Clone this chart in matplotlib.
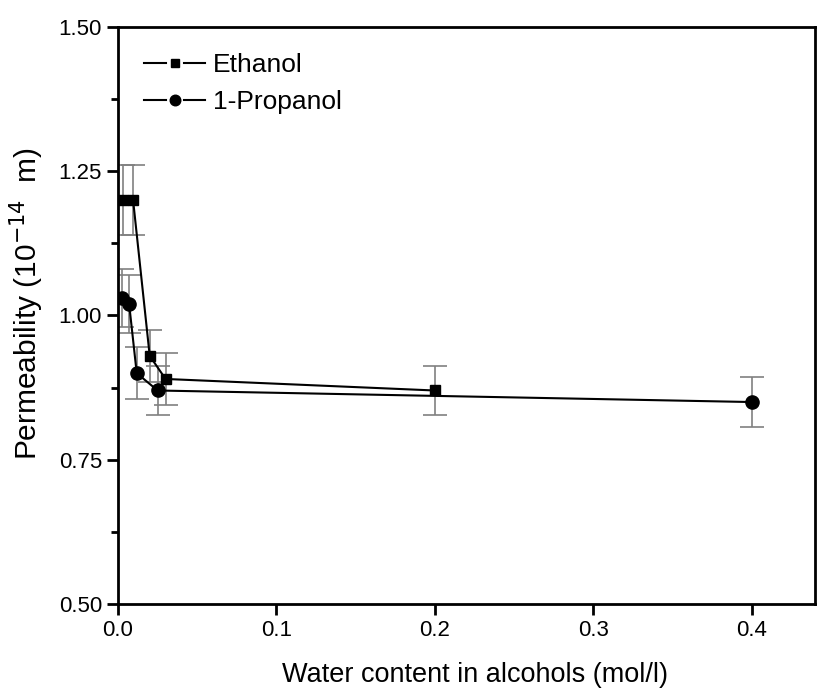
import matplotlib as mpl
import matplotlib.pyplot as plt
import numpy as np
from matplotlib.legend_handler import HandlerBase
from matplotlib.lines import Line2D
from matplotlib.ticker import MultipleLocator

plt.rcParams['font.family'] = ['Liberation Sans', 'DejaVu Sans']

# Ethanol
eth_x = [0.003, 0.0095, 0.020, 0.030, 0.200]
eth_y = [1.20, 1.20, 0.93, 0.89, 0.87]
eth_err = [0.06, 0.06, 0.045, 0.045, 0.043]

# 1-Propanol
prop_x = [0.0023, 0.007, 0.0118, 0.025, 0.400]
prop_y = [1.03, 1.02, 0.90, 0.87, 0.85]
prop_err = [0.05, 0.05, 0.045, 0.043, 0.043]


# legend entry drawn as  line - marker - line  with small gaps
class GapHandler(HandlerBase):
    def create_artists(self, legend, orig, xdescent, ydescent, width, height, fontsize, trans):
        y = height / 2 - ydescent
        x0 = -xdescent
        x1 = x0 + width
        mid = (x0 + x1) / 2
        g = 6.5
        l1 = Line2D([x0, mid - g], [y, y], color='black', lw=1.5, transform=trans)
        l2 = Line2D([mid + g, x1], [y, y], color='black', lw=1.5, transform=trans)
        m = Line2D([mid], [y], marker=orig.get_marker(), ms=orig.get_markersize() * 0.8,
                   color='black', ls='none', transform=trans)
        return [l1, l2, m]


fig = plt.figure(figsize=(8.18, 6.89), dpi=100)
ax = fig.add_axes([0.1443, 0.1234, 0.852, 0.8374])

err_kw = dict(ecolor='#808080', elinewidth=1.2, capsize=8.5, capthick=1.2)
eth = ax.errorbar(eth_x, eth_y, yerr=eth_err, color='black', lw=1.5, marker='s', ms=7.5,
                  label='Ethanol', **err_kw)
prop = ax.errorbar(prop_x, prop_y, yerr=prop_err, color='black', lw=1.5, marker='o', ms=9.5,
                   label='1-Propanol', **err_kw)

ax.set_xlim(0, 0.44)
ax.set_ylim(0.5, 1.5)
ax.set_xticks([0.0, 0.1, 0.2, 0.3, 0.4])
ax.set_yticks([0.50, 0.75, 1.00, 1.25, 1.50])
ax.yaxis.set_minor_locator(MultipleLocator(0.125))
ax.xaxis.set_major_formatter(mpl.ticker.FormatStrFormatter('%.1f'))
ax.yaxis.set_major_formatter(mpl.ticker.FormatStrFormatter('%.2f'))

ax.tick_params(axis='both', which='major', direction='out', length=8, width=2,
               labelsize=16, top=False, right=False)
ax.tick_params(axis='y', which='minor', direction='out', length=5, width=2, right=False)
for s in ax.spines.values():
    s.set_linewidth(2)

ax.set_xlabel('Water content in alcohols (mol/l)', fontsize=19.5, labelpad=15)
ax.xaxis.label.set_x(0.512)
ax.set_ylabel('Permeability (10$^{-14}$  m)', fontsize=21.5, labelpad=9)
ax.yaxis.label.set_y(0.52)

ax.legend([eth[0], prop[0]], ['Ethanol', '1-Propanol'], loc='upper left', frameon=False,
          fontsize=19, handlelength=2.3, handletextpad=0.3,
          borderaxespad=0.6, labelspacing=0.48,
          handler_map={Line2D: GapHandler()})

fig.savefig('out.png', dpi=100)
